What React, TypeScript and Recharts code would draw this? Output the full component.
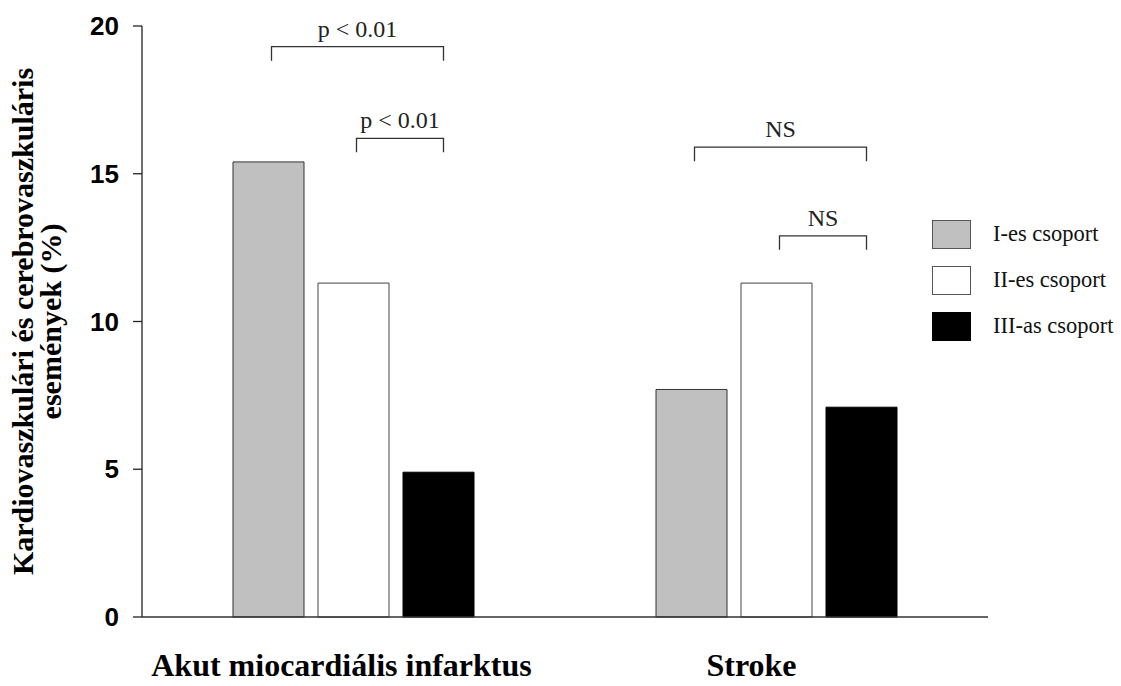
import { BarChart, Bar, XAxis, YAxis, LabelList } from "recharts";

const categories = ["Akut miocardiális infarktus", "Stroke"];
const groupI = [15.4, 7.7];
const groupII = [11.3, 11.3];
const groupIII = [4.9, 7.1];
const seriesNames = ["I-es csoport", "II-es csoport", "III-as csoport"];
const yTicks = [0, 5, 10, 15, 20];

// significance brackets: category, from bar, to bar, height (y units), text
const bracketCategory = [0, 0, 1, 1];
const bracketFrom = [0, 1, 0, 1];
const bracketTo = [2, 2, 2, 2];
const bracketLevel = [19.3, 16.2, 15.9, 12.9];
const bracketText = ["p < 0.01", "p < 0.01", "NS", "NS"];

const data = categories.map((name, i) => ({
  name,
  g1: groupI[i],
  g2: groupII[i],
  g3: groupIII[i],
}));

const SERIF = '"Liberation Serif", "Times New Roman", serif';
const SANS = '"Liberation Sans", Arial, sans-serif';
const BAR_SIZE = 71;
const BAR_GAP = 14;
const fills = ["#c0c0c0", "#ffffff", "#000000"];
const strokes = ["#333333", "#444444", "#000000"];
const labelShift = [-12, -25];

function Brackets(props: any) {
  const { x, y, width, height, value } = props;
  let index = props.index;
  if (index === undefined) index = data.findIndex((d) => d.g1 === value);
  const bottom = Number(y) + Number(height);
  const unit = Number(height) / Number(value);
  const cx = Number(x) + Number(width) / 2;
  const step = Number(width) + BAR_GAP;
  return (
    <g>
      {bracketCategory.map((c, i) => {
        if (c !== index) return null;
        const x1 = cx + bracketFrom[i] * step + 3;
        const x2 = cx + bracketTo[i] * step + 5;
        const yy = bottom - bracketLevel[i] * unit;
        return (
          <g key={i}>
            <path
              d={`M${x1},${yy + 14} V${yy} H${x2} V${yy + 14}`}
              fill="none"
              stroke="#333"
              strokeWidth={1.3}
            />
            <text
              x={(x1 + x2) / 2}
              y={yy - 10}
              textAnchor="middle"
              fontFamily={SERIF}
              fontSize={24}
              fill="#222"
            >
              {bracketText[i]}
            </text>
          </g>
        );
      })}
    </g>
  );
}

function CategoryTick(props: any) {
  const { x, y, payload, index } = props;
  const shift = labelShift[index] ?? -15;
  return (
    <text
      x={x + shift}
      y={y + 59}
      textAnchor="middle"
      fontFamily={SERIF}
      fontWeight="bold"
      fontSize={32}
      fill="#000"
    >
      {payload.value}
    </text>
  );
}

function YLabel(props: any) {
  const vb = props.viewBox || { y: 26, height: 591 };
  const cy = vb.y + vb.height / 2;
  return (
    <g fontFamily={SERIF} fontWeight="bold" fontSize={30} fill="#000">
      <text
        x={22}
        y={cy}
        transform={`rotate(-90 22 ${cy})`}
        textAnchor="middle"
        dominantBaseline="central"
      >
        Kardiovaszkulári és cerebrovaszkuláris
      </text>
      <text
        x={50}
        y={cy}
        transform={`rotate(-90 50 ${cy})`}
        textAnchor="middle"
        dominantBaseline="central"
      >
        események (%)
      </text>
    </g>
  );
}

function LegendBox() {
  return (
    <div style={{ position: "absolute", left: 932, top: 211 }}>
      {seriesNames.map((n, i) => (
        <div
          key={n}
          style={{ display: "flex", alignItems: "center", height: 46 }}
        >
          <div
            style={{
              width: 37,
              height: 27,
              background: fills[i],
              border: `1px solid ${i === 2 ? "#000" : "#555"}`,
            }}
          />
          <span
            style={{
              marginLeft: 22,
              fontFamily: SERIF,
              fontSize: 22.5,
              color: "#111",
            }}
          >
            {n}
          </span>
        </div>
      ))}
    </div>
  );
}

export default function App() {
  return (
    <div
      style={{
        position: "absolute",
        left: 0,
        top: 0,
        width: 1121,
        height: 686,
        background: "#fff",
      }}
    >
      <BarChart
        width={1121}
        height={686}
        data={data}
        margin={{ top: 26, right: 133, left: 0, bottom: 0 }}
        barGap={BAR_GAP}
        barSize={BAR_SIZE}
      >
        <XAxis
          dataKey="name"
          height={69}
          axisLine={{ stroke: "#333", strokeWidth: 1.3 }}
          tickLine={false}
          tickSize={0}
          tickMargin={0}
          tick={<CategoryTick />}
          interval={0}
        />
        <YAxis
          width={142}
          domain={[0, 20]}
          ticks={yTicks}
          interval={0}
          axisLine={{ stroke: "#222", strokeWidth: 1.3 }}
          tickLine={{ stroke: "#222", strokeWidth: 1.3 }}
          tickSize={9}
          tickMargin={14}
          tick={{
            fontFamily: SANS,
            fontWeight: "bold",
            fontSize: 26,
            fill: "#000",
          }}
          label={<YLabel />}
        />
        <Bar
          dataKey="g1"
          name={seriesNames[0]}
          fill={fills[0]}
          stroke={strokes[0]}
          strokeWidth={1}
          isAnimationActive={false}
        >
          <LabelList dataKey="g1" content={<Brackets />} />
        </Bar>
        <Bar
          dataKey="g2"
          name={seriesNames[1]}
          fill={fills[1]}
          stroke={strokes[1]}
          strokeWidth={1}
          isAnimationActive={false}
        />
        <Bar
          dataKey="g3"
          name={seriesNames[2]}
          fill={fills[2]}
          stroke={strokes[2]}
          strokeWidth={1}
          isAnimationActive={false}
        />
      </BarChart>
      <LegendBox />
    </div>
  );
}
